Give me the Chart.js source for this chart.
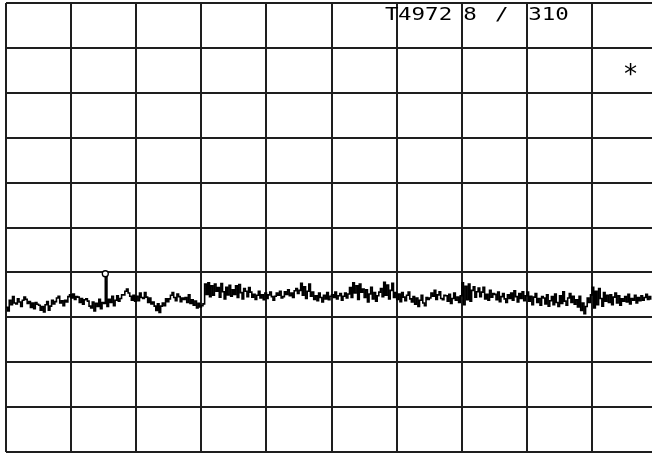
<!DOCTYPE html>
<html>
<head>
<meta charset="utf-8">
<script src="https://cdn.jsdelivr.net/npm/chart.js@4"></script>
<style>
  html, body { margin: 0; padding: 0; background: #fff; overflow: hidden; }
  #wrap { width: 652px; height: 453px; }
</style>
</head>
<body>
<div id="wrap"><canvas id="c" width="652" height="453"></canvas></div>
<script>
// ---- data (levels in dBm, reference level 0 dBm, 10 dB/div) ----
const traceStep = 0.025;           // horizontal divisions between trace samples
const traceLevels = [
  -67.8, -68.6, -66.2, -67.2, -65.4, -66.8, -67.0, -65.9, -66.6, -67.6,
  -66.2, -65.5, -66.0, -66.9, -66.5, -67.8, -66.8, -68.1, -66.7, -67.1,
  -67.3, -68.4, -67.6, -68.8, -67.2, -66.5, -68.4, -67.5, -66.2, -67.0,
  -66.5, -65.7, -65.3, -66.8, -66.3, -67.4, -66.2, -66.6, -65.4, -65.0,
  -65.7, -64.8, -66.0, -65.4, -65.5, -66.7, -65.8, -67.1, -66.1, -65.9,
  -66.4, -67.5, -67.9, -66.6, -68.6, -66.9, -67.6, -66.0, -68.1, -66.7,
  -66.9, -61.0, -67.6, -66.0, -66.7, -65.3, -67.4, -66.2, -65.2, -66.4,
  -65.8, -65.0, -65.0, -64.2, -63.7, -64.6, -65.3, -66.2, -65.1, -66.4,
  -65.3, -66.3, -64.6, -65.6, -65.8, -64.5, -65.5, -66.7, -65.7, -67.0,
  -66.6, -67.5, -68.5, -67.0, -68.9, -67.5, -66.8, -67.4, -65.9, -66.5,
  -65.9, -65.1, -64.5, -65.6, -66.3, -64.8, -65.4, -66.5, -65.7, -66.0,
  -65.6, -66.7, -65.0, -66.9, -66.1, -67.3, -66.4, -67.9, -66.9, -67.7,
  -67.4, -67.0, -62.6, -64.9, -62.3, -65.4, -63.0, -65.1, -62.6, -64.2,
  -63.4, -65.5, -62.5, -64.3, -65.9, -63.3, -65.0, -62.9, -65.3, -63.9,
  -64.9, -63.0, -65.6, -62.7, -64.5, -65.9, -63.6, -64.2, -65.4, -63.4,
  -64.4, -65.5, -64.9, -66.0, -65.1, -64.2, -65.7, -65.0, -66.1, -64.6,
  -65.8, -65.0, -64.4, -65.4, -66.2, -65.3, -64.6, -65.1, -64.2, -65.7,
  -65.4, -64.3, -64.9, -63.9, -65.2, -64.6, -65.6, -64.1, -63.6, -64.7,
  -64.0, -62.4, -65.1, -63.2, -65.8, -64.2, -62.6, -65.3, -64.4, -66.0,
  -65.2, -66.3, -64.6, -65.6, -66.6, -65.1, -65.9, -64.5, -66.1, -65.3,
  -65.0, -65.6, -64.4, -65.9, -65.2, -64.7, -66.2, -65.3, -64.6, -65.7,
  -64.8, -63.4, -65.6, -62.3, -64.6, -63.0, -66.0, -62.6, -64.4, -63.7,
  -65.6, -63.9, -66.6, -64.8, -63.3, -65.9, -64.5, -66.4, -65.2, -64.4,
  -63.6, -65.4, -62.2, -65.1, -62.8, -65.9, -64.0, -62.4, -65.6, -64.5,
  -66.0, -64.8, -66.5, -64.5, -65.5, -66.3, -65.1, -64.4, -65.9, -66.6,
  -65.4, -67.1, -65.7, -67.6, -66.2, -65.1, -66.8, -67.4, -65.6, -66.0,
  -65.7, -64.6, -65.3, -64.0, -66.0, -65.0, -64.3, -65.8, -66.1, -65.1,
  -65.2, -66.4, -64.9, -66.9, -65.8, -64.6, -66.2, -65.5, -66.7, -65.2,
  -62.3, -67.2, -63.1, -66.1, -62.6, -66.4, -64.0, -63.2, -65.5, -64.3,
  -63.5, -65.4, -64.4, -63.3, -65.9, -64.9, -66.2, -64.0, -65.5, -64.7,
  -64.9, -66.1, -64.4, -66.5, -65.4, -64.7, -65.9, -66.7, -65.0, -65.8,
  -64.6, -66.2, -64.1, -65.4, -66.6, -64.7, -65.8, -64.3, -66.3, -65.2,
  -64.4, -66.4, -65.3, -67.2, -65.5, -64.7, -66.7, -65.8, -67.3, -65.4,
  -65.7, -67.0, -65.0, -67.5, -66.3, -65.4, -67.2, -64.8, -66.7, -67.6,
  -65.2, -66.9, -64.3, -66.4, -67.3, -65.7, -64.7, -66.7, -65.3, -67.1,
  -66.1, -67.7, -65.3, -68.5, -66.8, -69.2, -67.6, -65.7, -66.7, -65.0,
  -63.3, -67.9, -64.2, -67.2, -63.6, -65.8, -67.5, -64.5, -66.4, -65.1,
  -66.7, -65.0, -67.2, -65.5, -64.6, -66.8, -65.2, -67.3, -65.9, -66.4,
  -65.4, -66.6, -64.9, -67.0, -65.8, -66.2, -65.1, -66.8, -65.6, -66.3,
  -65.2, -66.2, -65.6, -64.9, -66.0, -65.4, -66.1
];
const markerX = [1.525];
const markerY = [-60.3];
const headerTexts = ["T", "4972", "8", "/", "310"];
const headerDivs  = [5.82, 6.02, 7.02, 7.51, 8.02];
const starText = "*";

// ---- build ----
const tracePoints = traceLevels.map((v, i) => ({ x: i * traceStep, y: v }));
const markerPoints = markerX.map((x, i) => ({ x: x, y: markerY[i] }));

const textPlugin = {
  id: 'screenText',
  afterDraw(chart) {
    const ctx = chart.ctx;
    const xs = chart.scales.x;
    ctx.save();
    ctx.fillStyle = '#000';
    ctx.font = '18px "DejaVu Sans Mono"';
    ctx.textBaseline = 'alphabetic';
    ctx.textAlign = 'left';
    headerTexts.forEach((t, i) => {
      ctx.save();
      ctx.translate(xs.getPixelForValue(headerDivs[i]), 20);
      ctx.scale(1.25, 1);
      ctx.fillText(t, 0, 0);
      ctx.restore();
    });
    // asterisk
    ctx.font = '26px "DejaVu Sans Mono"';
    ctx.textAlign = 'center';
    const m = ctx.measureText(starText);
    const cx = xs.getPixelForValue(9.59);
    const cy = 69.5;
    ctx.fillText(starText, cx, cy + (m.actualBoundingBoxAscent - m.actualBoundingBoxDescent) / 2);
    ctx.restore();
  }
};

new Chart(document.getElementById('c'), {
  type: 'line',
  data: {
    datasets: [
      {
        data: tracePoints,
        borderColor: '#000',
        borderWidth: 1.6,
        pointRadius: 0,
        stepped: true,
        fill: false,
        order: 2
      },
      {
        type: 'scatter',
        data: markerPoints,
        pointStyle: 'circle',
        pointRadius: 3,
        borderColor: '#000',
        borderWidth: 1.3,
        backgroundColor: '#fff',
        order: 1
      }
    ]
  },
  options: {
    responsive: false,
    animation: false,
    devicePixelRatio: 1,
    layout: { autoPadding: false, padding: { left: 6, top: 3, right: 0, bottom: 1 } },
    plugins: { legend: { display: false }, tooltip: { enabled: false } },
    scales: {
      x: {
        type: 'linear',
        min: 0,
        max: 9.92,
        ticks: { display: false, stepSize: 1, includeBounds: false },
        grid: { color: '#1e1e1e', lineWidth: 2, drawTicks: false },
        border: { display: false }
      },
      y: {
        type: 'linear',
        min: -100,
        max: 0,
        ticks: { display: false, stepSize: 10 },
        grid: { color: '#1e1e1e', lineWidth: 2, drawTicks: false },
        border: { display: false }
      }
    }
  },
  plugins: [textPlugin]
});
</script>
</body>
</html>
